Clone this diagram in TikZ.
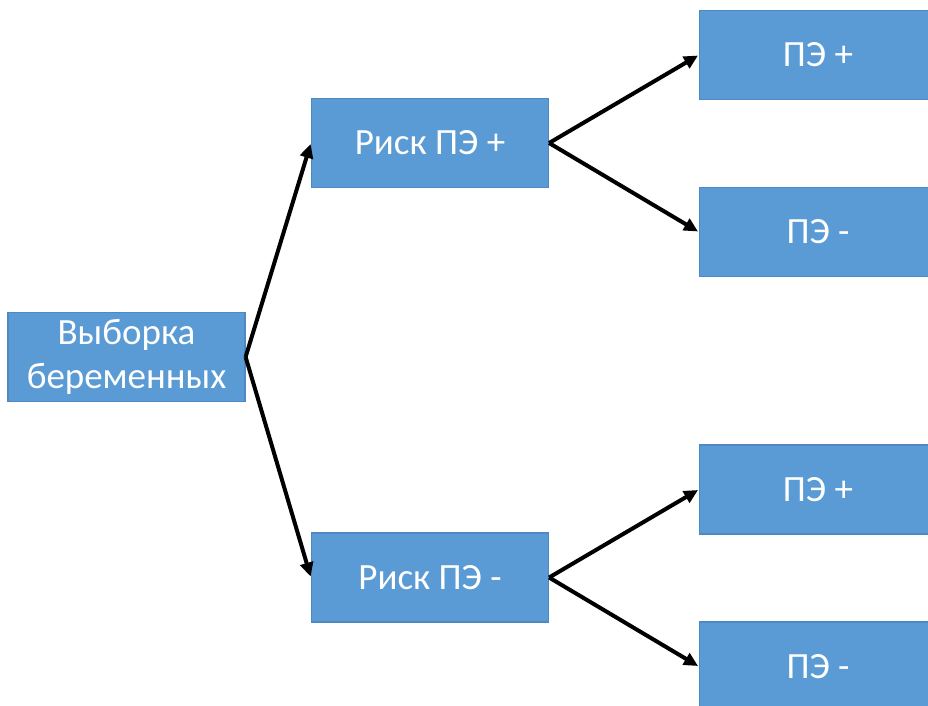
\documentclass[tikz,border=0pt]{standalone}
\usepackage{fontspec}
\setmainfont{Carlito}
\usetikzlibrary{arrows.meta}
\definecolor{boxfill}{HTML}{5B9BD5}
\definecolor{boxline}{HTML}{4F89C2}
\begin{document}
\begin{tikzpicture}[x=1pt,y=-1pt,
  box/.style={draw=boxline,line width=1.2pt,fill=boxfill,text=white,
    minimum width=237pt,minimum height=89pt,inner sep=0pt,align=center,
    font=\fontsize{37}{44}\selectfont},
  link/.style={line width=4pt,-{Triangle[length=14pt,width=13pt]},shorten >=1pt}]
\useasboundingbox (0,0) rectangle (928,705);
\clip (0,0) rectangle (928,705);
\fill[white] (0,0) rectangle (928,705);
% root and first split
\node[box] (root) at (126.5,357) {Выборка\\беременных};
\node[box] (rp) at (430,143) {Риск ПЭ +};
\node[box] (rm) at (430,577.5) {Риск ПЭ -};
% outcomes
\node[box] (rpp) at (818,55) {ПЭ +};
\node[box] (rpm) at (818,232) {ПЭ -};
\node[box] (rmp) at (818,489.5) {ПЭ +};
\node[box] (rmm) at (818,666.5) {ПЭ -};
% connectors
\draw[link] (root.east) -- (rp.west);
\draw[link] (root.east) -- (rm.west);
\draw[link] (rp.east) -- (rpp.west);
\draw[link] (rp.east) -- (rpm.west);
\draw[link] (rm.east) -- (rmp.west);
\draw[link] (rm.east) -- (rmm.west);
\end{tikzpicture}
\end{document}
